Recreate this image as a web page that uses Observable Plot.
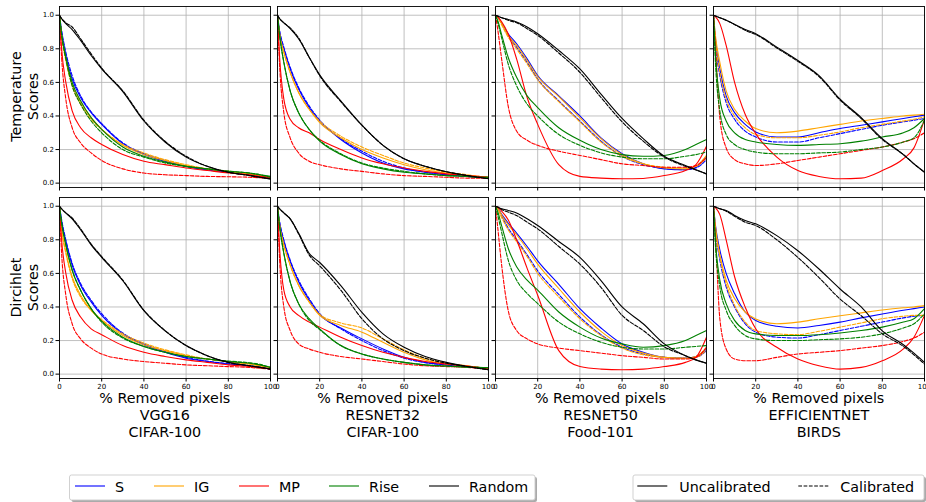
<!DOCTYPE html>
<html><head><meta charset="utf-8">
<script src="https://cdn.jsdelivr.net/npm/d3@7"></script>
<script src="https://cdn.jsdelivr.net/npm/@observablehq/plot@0.6"></script>
<style>
body{margin:0;background:#fff;font-family:"DejaVu Sans",sans-serif;}
#fig{position:relative;width:926px;height:502px;overflow:hidden;background:#fff;}
</style></head><body><div id="fig"></div>
<script>
// ---------- data ----------
const X = [0, 1, 3, 6, 10, 15, 20, 30, 40, 50, 60, 70, 80, 90, 95, 100];
const methods = ["S", "IG", "MP", "Rise", "Random"];
const colors = ["#0000ff", "#ffa500", "#ff0000", "#008000", "#000000"];
const models = ["VGG16", "RESNET32", "RESNET50", "EFFICIENTNET"];
const datasets = ["CIFAR-100", "CIFAR-100", "Food-101", "BIRDS"];
const rowLabels = [["Temperature", "Scores"], ["Dircihlet", "Scores"]];
const xLabel = "% Removed pixels";
const xTicks = [0, 20, 40, 60, 80, 100];
const yTicks = [0, 0.2, 0.4, 0.6, 0.8, 1.0];
const calibLabels = ["Uncalibrated", "Calibrated"];
// rows: S, S cal, IG, IG cal, MP, MP cal, Rise, Rise cal, Random, Random cal
const T_VGG16 = [
  [1,0.90,0.76,0.62,0.51,0.42,0.35,0.235,0.17,0.13,0.10,0.08,0.065,0.05,0.04,0.03],
  [1,0.91,0.78,0.64,0.52,0.425,0.355,0.24,0.175,0.135,0.10,0.08,0.065,0.05,0.04,0.03],
  [1,0.88,0.74,0.59,0.48,0.39,0.32,0.225,0.17,0.135,0.105,0.085,0.07,0.055,0.045,0.035],
  [1,0.88,0.73,0.58,0.47,0.38,0.32,0.23,0.18,0.14,0.11,0.085,0.068,0.055,0.045,0.035],
  [1,0.80,0.60,0.43,0.33,0.27,0.23,0.17,0.13,0.11,0.09,0.075,0.06,0.05,0.04,0.035],
  [1,0.75,0.50,0.33,0.24,0.18,0.135,0.085,0.06,0.05,0.045,0.04,0.038,0.035,0.032,0.03],
  [1,0.89,0.75,0.60,0.49,0.39,0.32,0.215,0.16,0.125,0.10,0.085,0.07,0.06,0.05,0.04],
  [1,0.88,0.74,0.58,0.47,0.37,0.30,0.20,0.155,0.12,0.10,0.085,0.072,0.06,0.05,0.035],
  [1,0.98,0.95,0.915,0.85,0.76,0.68,0.545,0.37,0.245,0.155,0.10,0.065,0.045,0.035,0.025],
  [1,0.98,0.955,0.93,0.86,0.77,0.685,0.55,0.375,0.25,0.16,0.10,0.065,0.045,0.035,0.025]
];
const T_RESNET32 = [
  [1,0.90,0.80,0.68,0.56,0.45,0.37,0.26,0.18,0.12,0.085,0.065,0.05,0.04,0.035,0.03],
  [1,0.91,0.81,0.69,0.57,0.46,0.375,0.265,0.19,0.13,0.09,0.065,0.05,0.04,0.035,0.03],
  [1,0.89,0.78,0.66,0.54,0.44,0.36,0.27,0.20,0.15,0.11,0.08,0.06,0.045,0.04,0.035],
  [1,0.89,0.78,0.66,0.54,0.44,0.37,0.28,0.215,0.165,0.12,0.09,0.065,0.05,0.04,0.035],
  [1,0.75,0.50,0.38,0.33,0.30,0.26,0.20,0.15,0.115,0.09,0.07,0.055,0.045,0.04,0.035],
  [1,0.70,0.42,0.27,0.18,0.13,0.11,0.085,0.07,0.055,0.045,0.04,0.035,0.03,0.03,0.03],
  [1,0.88,0.72,0.55,0.42,0.32,0.25,0.17,0.115,0.085,0.065,0.055,0.045,0.04,0.035,0.035],
  [1,0.88,0.72,0.55,0.42,0.32,0.255,0.175,0.12,0.09,0.07,0.055,0.045,0.04,0.035,0.035],
  [1,0.98,0.955,0.92,0.86,0.75,0.645,0.49,0.345,0.225,0.145,0.10,0.068,0.045,0.035,0.026],
  [1,0.98,0.955,0.925,0.865,0.75,0.64,0.485,0.345,0.225,0.145,0.10,0.068,0.045,0.035,0.026]
];
const T_RESNET50 = [
  [1,0.99,0.95,0.89,0.83,0.74,0.64,0.52,0.40,0.27,0.175,0.115,0.085,0.08,0.095,0.155],
  [1,0.99,0.95,0.88,0.81,0.72,0.62,0.49,0.37,0.25,0.16,0.11,0.088,0.08,0.09,0.14],
  [1,0.99,0.95,0.88,0.82,0.73,0.635,0.515,0.39,0.265,0.17,0.115,0.09,0.085,0.10,0.165],
  [1,0.99,0.94,0.87,0.80,0.71,0.615,0.485,0.365,0.245,0.16,0.115,0.095,0.09,0.10,0.15],
  [1,0.99,0.96,0.89,0.74,0.51,0.35,0.11,0.04,0.03,0.026,0.028,0.045,0.075,0.11,0.22],
  [1,0.92,0.73,0.46,0.31,0.255,0.225,0.19,0.165,0.14,0.115,0.105,0.095,0.095,0.105,0.155],
  [1,0.97,0.88,0.75,0.63,0.52,0.45,0.33,0.255,0.20,0.17,0.16,0.165,0.20,0.23,0.26],
  [1,0.96,0.86,0.71,0.58,0.47,0.40,0.29,0.225,0.18,0.155,0.145,0.145,0.16,0.17,0.185],
  [1,0.995,0.985,0.975,0.96,0.93,0.89,0.79,0.68,0.53,0.385,0.265,0.16,0.105,0.08,0.055],
  [1,0.995,0.985,0.97,0.955,0.92,0.88,0.775,0.66,0.51,0.365,0.25,0.155,0.10,0.078,0.055]
];
const T_EFFICIENTNET = [
  [1,0.85,0.68,0.52,0.42,0.35,0.305,0.275,0.275,0.30,0.325,0.345,0.365,0.385,0.395,0.405],
  [1,0.82,0.64,0.48,0.38,0.31,0.275,0.245,0.245,0.27,0.295,0.32,0.345,0.365,0.375,0.385],
  [1,0.87,0.72,0.55,0.44,0.37,0.325,0.30,0.31,0.33,0.35,0.37,0.385,0.40,0.405,0.41],
  [1,0.84,0.66,0.50,0.40,0.33,0.29,0.27,0.27,0.285,0.305,0.33,0.35,0.37,0.38,0.395],
  [1,0.99,0.95,0.82,0.60,0.41,0.295,0.155,0.075,0.04,0.026,0.03,0.075,0.145,0.21,0.38],
  [1,0.80,0.39,0.21,0.14,0.115,0.105,0.115,0.135,0.155,0.175,0.195,0.215,0.245,0.265,0.30],
  [1,0.75,0.50,0.37,0.30,0.26,0.245,0.23,0.225,0.23,0.235,0.25,0.275,0.30,0.33,0.385],
  [1,0.70,0.43,0.29,0.23,0.20,0.185,0.175,0.175,0.18,0.185,0.20,0.215,0.245,0.27,0.375],
  [1,0.995,0.985,0.97,0.945,0.915,0.89,0.81,0.73,0.64,0.50,0.39,0.265,0.17,0.115,0.065],
  [1,0.995,0.985,0.97,0.945,0.91,0.885,0.805,0.725,0.635,0.495,0.385,0.26,0.17,0.115,0.065]
];
const D_VGG16 = [
  [1,0.91,0.79,0.65,0.53,0.43,0.35,0.24,0.175,0.13,0.095,0.075,0.06,0.05,0.04,0.03],
  [1,0.92,0.80,0.66,0.54,0.44,0.36,0.245,0.18,0.135,0.10,0.078,0.062,0.05,0.04,0.03],
  [1,0.87,0.73,0.58,0.47,0.38,0.32,0.23,0.175,0.14,0.11,0.09,0.075,0.06,0.05,0.04],
  [1,0.86,0.72,0.57,0.46,0.38,0.325,0.24,0.185,0.145,0.115,0.09,0.075,0.06,0.05,0.04],
  [1,0.80,0.60,0.44,0.34,0.27,0.235,0.17,0.13,0.105,0.085,0.07,0.055,0.045,0.04,0.03],
  [1,0.72,0.47,0.30,0.21,0.155,0.12,0.09,0.075,0.065,0.055,0.05,0.045,0.04,0.035,0.03],
  [1,0.90,0.77,0.62,0.50,0.39,0.315,0.22,0.165,0.13,0.105,0.09,0.075,0.065,0.055,0.04],
  [1,0.90,0.77,0.62,0.50,0.39,0.31,0.215,0.165,0.13,0.105,0.09,0.078,0.068,0.058,0.04],
  [1,0.985,0.96,0.925,0.86,0.77,0.695,0.556,0.378,0.258,0.17,0.11,0.07,0.05,0.04,0.03],
  [1,0.985,0.96,0.93,0.865,0.775,0.70,0.56,0.38,0.26,0.17,0.11,0.07,0.05,0.04,0.03]
];
const D_RESNET32 = [
  [1,0.90,0.79,0.67,0.55,0.44,0.355,0.275,0.21,0.15,0.10,0.07,0.055,0.045,0.038,0.032],
  [1,0.91,0.80,0.68,0.56,0.45,0.36,0.27,0.20,0.14,0.095,0.068,0.055,0.045,0.038,0.032],
  [1,0.89,0.77,0.65,0.53,0.43,0.35,0.29,0.25,0.19,0.13,0.085,0.06,0.048,0.04,0.035],
  [1,0.89,0.77,0.65,0.53,0.43,0.355,0.305,0.275,0.21,0.145,0.095,0.065,0.05,0.04,0.035],
  [1,0.75,0.50,0.40,0.35,0.31,0.28,0.22,0.17,0.13,0.10,0.075,0.06,0.048,0.04,0.035],
  [1,0.68,0.40,0.26,0.18,0.15,0.13,0.105,0.09,0.075,0.06,0.05,0.045,0.04,0.035,0.03],
  [1,0.88,0.72,0.55,0.42,0.33,0.27,0.17,0.12,0.09,0.07,0.055,0.048,0.042,0.04,0.038],
  [1,0.88,0.72,0.55,0.42,0.32,0.265,0.17,0.12,0.09,0.07,0.055,0.048,0.042,0.04,0.038],
  [1,0.985,0.96,0.925,0.84,0.72,0.665,0.527,0.368,0.24,0.16,0.105,0.07,0.045,0.035,0.026],
  [1,0.985,0.96,0.925,0.835,0.71,0.645,0.50,0.33,0.21,0.14,0.095,0.065,0.045,0.035,0.026]
];
const D_RESNET50 = [
  [1,0.99,0.95,0.90,0.84,0.76,0.675,0.535,0.39,0.275,0.18,0.13,0.10,0.095,0.105,0.15],
  [1,0.99,0.94,0.87,0.80,0.71,0.615,0.475,0.34,0.235,0.16,0.12,0.10,0.095,0.10,0.14],
  [1,0.99,0.945,0.89,0.83,0.745,0.655,0.51,0.37,0.255,0.17,0.125,0.10,0.095,0.105,0.16],
  [1,0.985,0.93,0.86,0.79,0.70,0.60,0.46,0.33,0.23,0.155,0.115,0.10,0.095,0.10,0.145],
  [1,0.995,0.97,0.92,0.80,0.63,0.47,0.14,0.045,0.03,0.026,0.03,0.045,0.07,0.10,0.22],
  [1,0.88,0.64,0.38,0.26,0.21,0.18,0.155,0.14,0.125,0.11,0.10,0.09,0.09,0.10,0.16],
  [1,0.97,0.88,0.75,0.64,0.56,0.50,0.37,0.28,0.215,0.18,0.16,0.17,0.20,0.23,0.26],
  [1,0.95,0.84,0.68,0.56,0.48,0.42,0.31,0.24,0.19,0.16,0.15,0.15,0.16,0.165,0.17],
  [1,0.995,0.985,0.975,0.96,0.925,0.885,0.79,0.695,0.557,0.40,0.30,0.18,0.11,0.085,0.065],
  [1,0.995,0.98,0.965,0.945,0.905,0.865,0.76,0.655,0.517,0.35,0.26,0.163,0.11,0.085,0.065]
];
const D_EFFICIENTNET = [
  [1,0.88,0.74,0.60,0.48,0.37,0.32,0.285,0.275,0.29,0.31,0.335,0.358,0.38,0.39,0.40],
  [1,0.85,0.68,0.52,0.40,0.30,0.25,0.22,0.215,0.235,0.26,0.285,0.31,0.335,0.345,0.35],
  [1,0.87,0.71,0.56,0.45,0.37,0.328,0.30,0.31,0.33,0.348,0.365,0.382,0.395,0.40,0.408],
  [1,0.86,0.70,0.54,0.41,0.31,0.26,0.24,0.235,0.255,0.28,0.305,0.33,0.345,0.35,0.35],
  [1,0.99,0.95,0.80,0.58,0.40,0.27,0.16,0.09,0.05,0.03,0.04,0.08,0.15,0.22,0.35],
  [1,0.80,0.33,0.15,0.09,0.08,0.08,0.10,0.12,0.13,0.14,0.155,0.17,0.195,0.215,0.25],
  [1,0.78,0.56,0.42,0.32,0.26,0.24,0.23,0.23,0.235,0.245,0.26,0.28,0.31,0.33,0.39],
  [1,0.75,0.52,0.38,0.29,0.23,0.21,0.20,0.20,0.205,0.21,0.22,0.24,0.275,0.30,0.36],
  [1,0.995,0.985,0.975,0.945,0.915,0.895,0.825,0.735,0.626,0.507,0.40,0.258,0.175,0.125,0.07],
  [1,0.995,0.985,0.97,0.94,0.905,0.885,0.80,0.695,0.575,0.447,0.348,0.24,0.165,0.115,0.06]
];
const panels = [
  [T_VGG16, T_RESNET32, T_RESNET50, T_EFFICIENTNET],
  [D_VGG16, D_RESNET32, D_RESNET50, D_EFFICIENTNET]
];

// ---------- layout ----------
const fig = document.getElementById("fig");
const colLeft = [59.3, 277.3, 495, 713.3];
const rowTop = [6, 197];
const W = 211, H = 181;
const ML = 30, MR = 4, MT = 4, MB = 16;
const FONT = "DejaVu Sans";
const DASH = "3.7,1.6";

function panel(series, r, c) {
  const marks = [
    Plot.gridX(xTicks, {stroke: "#b0b0b0", strokeOpacity: 1, strokeWidth: 0.8}),
    Plot.gridY(yTicks, {stroke: "#b0b0b0", strokeOpacity: 1, strokeWidth: 0.8})
  ];
  series.forEach((vals, k) => {
    const m = Math.floor(k / 2), cal = k % 2 === 1;
    const pts = X.map((x, i) => ({x, y: vals[i]}));
    marks.push(Plot.line(pts, {
      x: "x", y: "y", stroke: colors[m], strokeWidth: 1.1,
      strokeDasharray: cal ? DASH : undefined, curve: "monotone-x"
    }));
  });
  marks.push(Plot.axisX({ticks: xTicks, tickSize: 3.5, tickPadding: 2, fontSize: 7, label: null,
    tickFormat: r === 1 ? (d => String(d)) : (() => "")}));
  marks.push(Plot.axisY({ticks: yTicks, tickSize: 3.5, tickPadding: 2, fontSize: 7, label: null,
    tickFormat: c === 0 ? d3.format(".1f") : (() => "")}));
  marks.push(Plot.frame({stroke: "black", strokeWidth: 0.9}));
  const el = Plot.plot({
    width: ML + W + MR, height: MT + H + MB,
    marginLeft: ML, marginRight: MR, marginTop: MT, marginBottom: MB,
    x: {domain: [0, 100]},
    y: {domain: [-0.026, 1.052]},
    style: {background: "transparent", overflow: "visible", fontFamily: FONT, color: "#000"},
    marks
  });
  el.style.position = "absolute";
  el.style.left = (colLeft[c] - ML) + "px";
  el.style.top = (rowTop[r] - MT) + "px";
  el.style.maxWidth = "none";
  fig.appendChild(el);
}
panels.forEach((row, r) => row.forEach((s, c) => panel(s, r, c)));

// ---------- labels & legends ----------
const svg = d3.select(fig).append("svg")
  .attr("width", 926).attr("height", 502)
  .style("position", "absolute").style("left", "0px").style("top", "0px")
  .style("pointer-events", "none")
  .attr("font-family", FONT);

// y labels
rowLabels.forEach((lines, r) => {
  const cy = rowTop[r] + H / 2;
  const t = svg.append("text").attr("transform", `translate(0,${cy}) rotate(-90)`)
    .attr("text-anchor", "middle").attr("font-size", 14.3).attr("fill", "#000");
  lines.forEach((s, i) => t.append("tspan").attr("x", 0).attr("y", 21 + i * 16.5).text(s));
});

// x labels
models.forEach((mdl, c) => {
  const cx = colLeft[c] + W / 2;
  [xLabel, mdl, datasets[c]].forEach((s, i) => {
    svg.append("text").attr("x", cx).attr("y", 403 + i * 17)
      .attr("text-anchor", "middle").attr("font-size", 14.3).attr("fill", "#000").text(s);
  });
});

function legendBox(x0, x1, y0, y1) {
  svg.append("rect").attr("x", x0 + 2).attr("y", y0 + 2).attr("width", x1 - x0).attr("height", y1 - y0)
    .attr("rx", 2).attr("fill", "#555").attr("opacity", 0.5);
  svg.append("rect").attr("x", x0).attr("y", y0).attr("width", x1 - x0).attr("height", y1 - y0)
    .attr("rx", 2).attr("fill", "#fff").attr("stroke", "#cccccc").attr("stroke-width", 0.9);
}
// legend 1: methods
legendBox(69.5, 535, 475, 500);
const lineX = [75, 154, 239, 329, 429];
methods.forEach((m, i) => {
  svg.append("line").attr("x1", lineX[i]).attr("x2", lineX[i] + 30).attr("y1", 486).attr("y2", 486)
    .attr("stroke", colors[i]).attr("stroke-width", 1.1);
  svg.append("text").attr("x", lineX[i] + 40).attr("y", 491.5).attr("font-size", 14.3)
    .attr("fill", "#000").text(m);
});
// legend 2: calibration
legendBox(633, 924, 475, 500);
const cLineX = [637.3, 798.3];
calibLabels.forEach((s, i) => {
  svg.append("line").attr("x1", cLineX[i]).attr("x2", cLineX[i] + 30).attr("y1", 486).attr("y2", 486)
    .attr("stroke", "#000").attr("stroke-width", 1.1).attr("stroke-dasharray", i ? DASH : null);
  svg.append("text").attr("x", cLineX[i] + 42).attr("y", 491.5).attr("font-size", 14.3)
    .attr("fill", "#000").text(s);
});
</script></body></html>
